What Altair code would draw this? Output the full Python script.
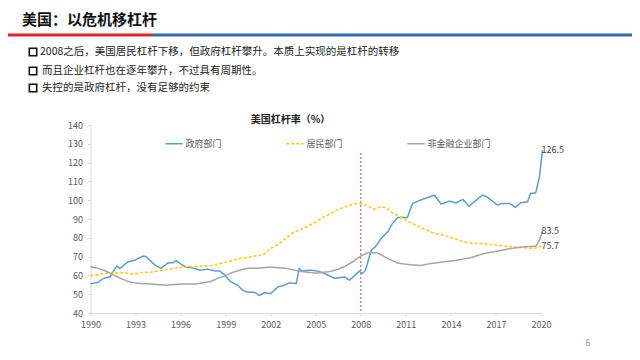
import altair as alt
import pandas as pd

# ---------------- data ----------------
categories = ["政府部门", "居民部门", "非金融企业部门"]

gov_year = [1990, 1990.5, 1990.85, 1991.3, 1991.75, 1991.95, 1992.5, 1992.95, 1993.5, 1993.7,
            1994.3, 1994.7, 1995.15, 1995.5, 1995.7, 1996.3, 1996.7, 1997.3, 1997.8, 1998.3,
            1998.6, 1998.95, 1999.3, 1999.8, 2000.15, 2000.5, 2000.93, 2001.26, 2001.6, 2002.0,
            2002.5, 2002.8, 2003.25, 2003.7, 2003.9, 2004.1, 2004.6, 2005.0, 2005.5, 2005.9,
            2006.25, 2006.6, 2006.9, 2007.25, 2007.6, 2007.9, 2008.1, 2008.3, 2008.5, 2008.7,
            2009.0, 2009.35, 2009.8, 2010.1, 2010.45, 2011.1, 2011.45, 2011.7, 2012.1, 2012.9,
            2013.35, 2013.9, 2014.35, 2014.8, 2015.2, 2015.55, 2016.1, 2016.4, 2017.1, 2017.4,
            2017.9, 2018.3, 2018.65, 2019.1, 2019.3, 2019.65, 2019.9, 2020.1]
gov_val = [55.5, 56.3, 58.3, 59.3, 65.0, 63.7, 67.2, 68.1, 70.3, 70.0,
           65.4, 63.8, 66.6, 66.8, 67.8, 64.6, 64.2, 62.8, 63.3, 62.4,
           62.4, 60.2, 56.8, 54.8, 52.0, 51.0, 51.0, 49.3, 50.8, 50.3,
           54.0, 54.5, 56.0, 55.7, 63.6, 62.3, 62.8, 62.5, 61.3, 59.8,
           58.5, 58.8, 59.2, 57.5, 60.0, 62.3, 61.0, 62.5, 68.0, 73.4,
           75.5, 79.6, 83.2, 87.6, 90.8, 90.8, 98.3, 99.1, 100.4, 102.7,
           97.9, 99.5, 98.6, 100.4, 96.8, 99.1, 102.7, 101.8, 97.4, 98.3,
           98.3, 96.2, 98.6, 99.1, 103.6, 103.9, 112.5, 126.5]

hh_year = [1990, 1991, 1992, 1993, 1993.5, 1994, 1994.5, 1995, 1996, 1997, 1998, 1999, 2000,
           2000.5, 2001, 2001.5, 2002, 2002.5, 2003, 2003.5, 2004, 2004.5, 2005, 2005.5, 2006,
           2006.5, 2007, 2007.5, 2007.9, 2008.35, 2008.9, 2009.35, 2009.7, 2010.1, 2010.55,
           2011.2, 2012.0, 2012.8, 2013.55, 2014.2, 2014.9, 2015.55, 2016.2, 2016.9, 2017.75,
           2018.65, 2019.55, 2020.1]
hh_val = [59.8, 61.2, 61.5, 60.8, 61.7, 61.7, 62.4, 63.0, 64.4, 64.7, 65.2, 67.0, 69.1,
          69.6, 70.4, 70.9, 74.4, 76.5, 79.7, 82.7, 84.5, 86.2, 88.5, 90.8, 92.9,
          95.2, 96.5, 97.9, 98.4, 97.4, 95.1, 96.5, 95.9, 93.3, 91.5,
          88.5, 85.5, 82.6, 81.4, 79.6, 77.8, 77.0, 77.0, 76.2, 75.5,
          74.8, 74.3, 75.7]

corp_year = [1990, 1990.5, 1991, 1991.5, 1992, 1992.5, 1993, 1994, 1995, 1996, 1997, 1998,
             1998.5, 1999, 1999.5, 2000, 2000.5, 2001, 2002, 2003, 2004, 2005, 2006, 2006.5,
             2007, 2007.5, 2008, 2008.45, 2009.1, 2009.8, 2010.45, 2011.1, 2012.0, 2012.65,
             2013.55, 2014.45, 2015.35, 2016.2, 2017.1, 2018.0, 2018.85, 2019.65, 2019.9, 2020.1]
corp_val = [64.7, 63.8, 62.4, 60.3, 58.5, 56.8, 55.9, 55.4, 54.8, 55.4, 55.4, 56.8,
            58.5, 59.9, 61.7, 62.9, 63.8, 63.8, 64.4, 63.8, 62.1, 61.2, 62.1, 63.3,
            65.1, 67.4, 70.3, 72.0, 72.0, 69.0, 66.6, 65.8, 65.3, 66.3,
            67.2, 68.1, 69.5, 71.6, 72.9, 74.3, 75.2, 75.5, 78.7, 83.5]

x_ticks = [1990, 1993, 1996, 1999, 2002, 2005, 2008, 2011, 2014, 2017, 2020]
y_ticks = [40, 50, 60, 70, 80, 90, 100, 110, 120, 130, 140]
end_labels = ["126.5", "83.5", "75.7"]
crisis_year = [2008]

page_title = ["美国：以危机移杠杆"]
bullets = ["2008之后，美国居民杠杆下移，但政府杠杆攀升。本质上实现的是杠杆的转移",
           "而且企业杠杆也在逐年攀升，不过具有周期性。",
           "失控的是政府杠杆，没有足够的约束"]
chart_title = ["美国杠杆率（%）"]
page_no = ["6"]

colors = ["#5b9bd5", "#ffc800", "#a5a5a5"]
FONT = "Noto Sans CJK SC"

# ---------------- frames ----------------
df = pd.concat([
    pd.DataFrame({"year": gov_year, "value": gov_val, "部门": categories[0]}),
    pd.DataFrame({"year": hh_year, "value": hh_val, "部门": categories[1]}),
    pd.DataFrame({"year": corp_year, "value": corp_val, "部门": categories[2]}),
])
ends = pd.DataFrame({
    "year": [gov_year[-1], corp_year[-1], hh_year[-1]],
    "value": [gov_val[-1], corp_val[-1], hh_val[-1]],
    "label": end_labels,
})

W, H = 452, 188
xscale = alt.Scale(domain=[1990, 2020.1], nice=False, zero=False)
yscale = alt.Scale(domain=[40, 140], nice=False, zero=False)

x_axis = alt.Axis(values=x_ticks, format="d", title=None, grid=False,
                  labelFontSize=9, labelColor="#595959", labelFont=FONT,
                  domainColor="#d9d9d9", tickColor="#d9d9d9", tickSize=3,
                  labelPadding=4, labelFlush=False, labelOverlap=False)
y_axis = alt.Axis(values=y_ticks, title=None, grid=False,
                  labelFontSize=9, labelColor="#595959", labelFont=FONT,
                  domainColor="#d9d9d9", tickColor="#d9d9d9", tickSize=3,
                  labelPadding=5, labelOverlap=False, labelFlush=False)

legend_kw = dict(title=None, orient="none", legendX=74, legendY=9,
                 direction="horizontal", symbolType="stroke",
                 symbolSize=300, symbolStrokeWidth=1.5,
                 labelFontSize=9, labelColor="#595959", labelFont=FONT,
                 columnPadding=60, labelOffset=2, padding=0)

lines = alt.Chart(df).mark_line(strokeWidth=1.5).encode(
    x=alt.X("year:Q", scale=xscale, axis=x_axis),
    y=alt.Y("value:Q", scale=yscale, axis=y_axis),
    color=alt.Color("部门:N", sort=categories,
                    scale=alt.Scale(domain=categories, range=colors),
                    legend=alt.Legend(**legend_kw)),
    strokeDash=alt.StrokeDash("部门:N", sort=categories,
                              scale=alt.Scale(domain=categories, range=[[1, 0], [3, 2], [1, 0]]),
                              legend=alt.Legend(**legend_kw)),
    order=alt.Order("year:Q"),
)

crisis = alt.Chart(pd.DataFrame({"year": crisis_year})).mark_rule(
    color="#e03c3c", strokeWidth=1, strokeDash=[2, 2]
).encode(x=alt.X("year:Q", scale=xscale, axis=x_axis), y=alt.value(28), y2=alt.value(H))

end_text = alt.Chart(ends).mark_text(
    align="left", baseline="middle", dx=-1, dy=0, fontSize=9, color="#404040", font=FONT
).encode(x=alt.X("year:Q", scale=xscale, axis=x_axis),
         y=alt.Y("value:Q", scale=yscale, axis=y_axis), text="label:N")

one = pd.DataFrame({"k": [0]})
bar_red = alt.Chart(one).mark_rule(color="#e8202a", strokeWidth=3).encode(
    x=alt.value(-83), x2=alt.value(61.5), y=alt.value(-90))
bar_blue = alt.Chart(one).mark_rule(color="#2e6bb0", strokeWidth=3).encode(
    x=alt.value(61.5), x2=alt.value(545), y=alt.value(-90))

title_text = alt.Chart(pd.DataFrame({"t": page_title})).mark_text(
    align="left", baseline="middle", fontSize=15, fontWeight="bold", font=FONT, color="#111111"
).encode(x=alt.value(-68.5), y=alt.value(-105), text="t:N")

bullet_y = [-73, -54, -37]
bullet_x = [-50.5, -48.5, -48.5]
bullet_layers = []
for i, t in enumerate(bullets):
    d = pd.DataFrame({"t": [t]})
    bullet_layers.append(alt.Chart(d).mark_point(
        shape="square", filled=False, size=55, strokeWidth=1.6, color="#111111", opacity=1
    ).encode(x=alt.value(-57.5), y=alt.value(bullet_y[i])))
    bullet_layers.append(alt.Chart(d).mark_text(
        align="left", baseline="middle", fontSize=10.5, font=FONT, color="#222222"
    ).encode(x=alt.value(bullet_x[i]), y=alt.value(bullet_y[i]), text="t:N"))

ctitle = alt.Chart(pd.DataFrame({"t": chart_title})).mark_text(
    align="center", baseline="middle", fontSize=10, fontWeight="bold", font=FONT, color="#222222"
).encode(x=alt.value(200), y=alt.value(-5), text="t:N")

pno = alt.Chart(pd.DataFrame({"t": page_no})).mark_text(
    align="center", baseline="middle", fontSize=9, font=FONT, color="#999999"
).encode(x=alt.value(497.5), y=alt.value(218), text="t:N")

chart = alt.layer(
    bar_red, bar_blue, title_text, *bullet_layers, ctitle, pno, crisis, lines, end_text
).properties(
    width=W, height=H,
    autosize=alt.AutoSizeParams(type="none"),
    padding={"left": 82.5, "top": 117, "right": 89.5, "bottom": 39},
).configure_view(stroke=None)

chart.save("out.html", embed_options={"renderer": "svg", "actions": False})
